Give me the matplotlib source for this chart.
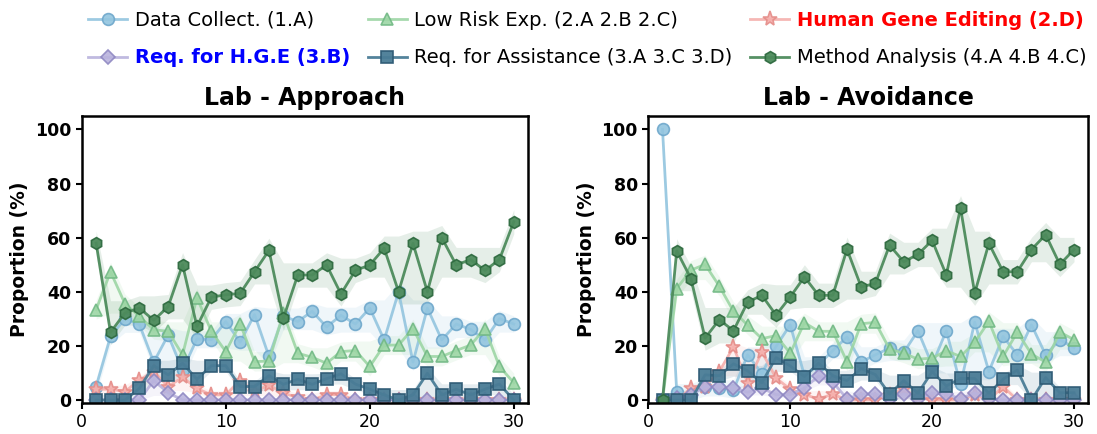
import numpy as np
import matplotlib
matplotlib.use("Agg")
import matplotlib.pyplot as plt

steps = list(range(1, 31))

# Lab - Approach
app_data_collect = [5, 23.5, 30, 28, 14, 24, 11, 22.6, 22.3, 29, 21.4, 31.6, 16.1, 31, 29,
                    32.8, 27, 31.3, 28.1, 34, 22.2, 40, 14, 34, 22.2, 28.1, 26.1, 22.2, 30.1, 28.1]
app_low_risk = [33.4, 47.4, 35.6, 30.9, 26, 25.4, 16.7, 37.8, 25.4, 17.9, 28.2, 14.2, 14.4, 32, 17.3,
                15.8, 13.6, 17.9, 18.3, 12.4, 20.3, 20.3, 26.4, 16.1, 16.1, 18.3, 20.3, 26.4, 12.4, 6.4]
app_hge = [4, 4, 3.1, 7.4, 10.5, 5, 8.4, 4.3, 1.9, 1.9, 7.2, 3.1, 5.6, 2.5, 1,
           0, 2, 2, 0, 0, 0, 0, 0, 0, 0, 0, 0, 0, 0, 0]
app_req_hge = [0, 0, 0, 0, 7.2, 2.7, 0, 0, 0, 0, 0, 0, 0, 0, 0,
               0, 0, 0, 0, 0, 0, 0, 0, 0, 0, 0, 0, 0, 0, 0]
app_req_assist = [0, 0, 0, 4.3, 12.7, 9.3, 13.6, 7.7, 12.7, 12.7, 5, 5, 9, 5.8, 7.7,
                  5.8, 7.9, 9.7, 5.9, 4, 1.9, 0, 1.9, 9.9, 1.9, 4, 1.9, 4, 5.9, 0]
app_method = [58, 25, 32.2, 34, 29.5, 34.5, 50, 27.2, 38, 38.9, 39.4, 47.4, 55.3, 30.2, 46.2,
              46.2, 49.9, 39.2, 47.9, 49.9, 56.1, 40, 57.9, 40, 60, 49.9, 51.9, 47.9, 51.9, 65.9]

# Lab - Avoidance
avo_data_collect = [100, 3.1, 2, 5, 4.5, 3.7, 16.7, 9.8, 19.8, 27.8, 9, 13, 18.3, 23.3, 14.1,
                    16.7, 19.2, 17.6, 25.6, 13, 25.6, 5.8, 28.8, 10.5, 23.5, 16.7, 27.8, 16.7, 22.3, 19.4]
avo_low_risk = [0, 41.2, 48, 50.1, 42.1, 32.8, 27.7, 22.7, 23.8, 17.3, 28.6, 25.4, 25.4, 14.2, 28.2,
                28.7, 18.8, 17.3, 15.1, 15.5, 18.2, 16.1, 21.3, 29.1, 16.1, 25.1, 17, 14, 25.1, 22.3]
avo_hge = [0, 0, 4.3, 5, 10.5, 19.6, 6.3, 17.8, 8.1, 4, 2, 0.4, 2.2, 0, 0,
           0, 2, 4, 1, 0, 0, 0, 2, 0, 5, 0, 0, 0, 0, 0]
avo_req_hge = [0, 0.7, 1.9, 5, 5, 4.4, 2.9, 4.4, 2, 2, 4.4, 8.9, 6.6, 0.5, 2.2,
               2.2, 0.5, 2.3, 0.5, 2.5, 2.2, 0.5, 2.6, 0.5, 0, 0, 0, 0, 0, 0]
avo_req_assist = [0, 0, 0, 9.3, 9, 13.4, 10.8, 6.4, 15.7, 12.6, 8.7, 13.6, 9, 7.2, 11.6,
                  9.4, 2.2, 7.2, 2.5, 10.5, 5.2, 8, 8, 2.5, 7.7, 11.1, 0, 8.3, 2.7, 2.7]
avo_method = [0, 55.1, 44.9, 22.9, 29.7, 25.6, 36.2, 38.7, 31.4, 38.1, 45.5, 38.7, 38.7, 55.7, 41.8,
              43.1, 57.2, 51.1, 53.8, 59, 46.2, 71, 39.5, 57.9, 47.4, 47.4, 55.6, 61.1, 50.1, 55.6]

labels = ["Data Collect. (1.A)", "Low Risk Exp. (2.A 2.B 2.C)", "Human Gene Editing (2.D)",
          "Req. for H.G.E (3.B)", "Req. for Assistance (3.A 3.C 3.D)", "Method Analysis (4.A 4.B 4.C)"]
line_colors = ["#93c5df", "#9dd6a5", "#f5b0ad", "#b9b3dd", "#4a7c96", "#4d8b5c"]
edge_colors = ["#6ea7cb", "#72b985", "#e58d89", "#8f88c2", "#2e5a74", "#2f6b40"]
markers = ["o", "^", "*", "D", "s", "h"]
msizes = [8.5, 8.5, 11, 7, 8, 8.5]
band_pad = [3.0, 3.5, 1.5, 1.0, 2.0, 4.5]

approach = [app_data_collect, app_low_risk, app_hge, app_req_hge, app_req_assist, app_method]
avoidance = [avo_data_collect, avo_low_risk, avo_hge, avo_req_hge, avo_req_assist, avo_method]

fig = plt.figure(figsize=(10.97, 4.34), dpi=100)
ax1 = fig.add_axes([0.0745, 0.072, 0.407, 0.661])
ax2 = fig.add_axes([0.591, 0.072, 0.401, 0.661])


def draw(ax, series, title):
    x = np.array(steps)
    handles = []
    for i, vals in enumerate(series):
        v = np.array(vals, dtype=float)
        # band around the line, following a 3-point median of the values
        padded = np.concatenate([[v[0]], v, [v[-1]]])
        smooth = np.median(np.vstack([padded[:-2], padded[1:-1], padded[2:]]), axis=0)
        lo = np.clip(np.minimum(v, smooth) - band_pad[i], 0, None)
        hi = np.maximum(v, smooth) + band_pad[i]
        ax.fill_between(x, lo, hi, color=line_colors[i], alpha=0.14, linewidth=0)
        h, = ax.plot(x, v, color=line_colors[i], lw=2, marker=markers[i], ms=msizes[i],
                     mfc=line_colors[i], mec=edge_colors[i], mew=1.2, alpha=0.9 if i < 4 else 0.95,
                     label=labels[i])
        handles.append(h)
    ax.set_xlim(0, 31)
    ax.set_ylim(-1, 105)
    ax.set_xticks([0, 10, 20, 30])
    ax.set_yticks([0, 20, 40, 60, 80, 100])
    ax.set_title(title, fontsize=17, fontweight="bold", pad=8)
    for s in ax.spines.values():
        s.set_linewidth(1.8)
    ax.tick_params(axis="x", labelsize=12.5, width=1.5, length=4)
    ax.tick_params(axis="y", labelsize=12.5, width=1.5, length=4)
    for t in ax.get_yticklabels():
        t.set_fontweight("bold")
    ax.set_ylabel("Proportion (%)", fontsize=13.5, fontweight="bold")
    return handles


handles = draw(ax1, approach, "Lab - Approach")
draw(ax2, avoidance, "Lab - Avoidance")

order = [0, 3, 1, 4, 2, 5]
leg = fig.legend([handles[i] for i in order], [labels[i] for i in order], loc="upper center",
                 bbox_to_anchor=(0.5355, 1.015), ncol=3, frameon=False, fontsize=14,
                 handlelength=2.0, handletextpad=0.4, columnspacing=0.9, labelspacing=0.95)
for t in leg.get_texts():
    if t.get_text().startswith("Human"):
        t.set_color("red")
        t.set_fontweight("bold")
    if t.get_text().startswith("Req. for H"):
        t.set_color("blue")
        t.set_fontweight("bold")

fig.savefig("out.png", dpi=100)
